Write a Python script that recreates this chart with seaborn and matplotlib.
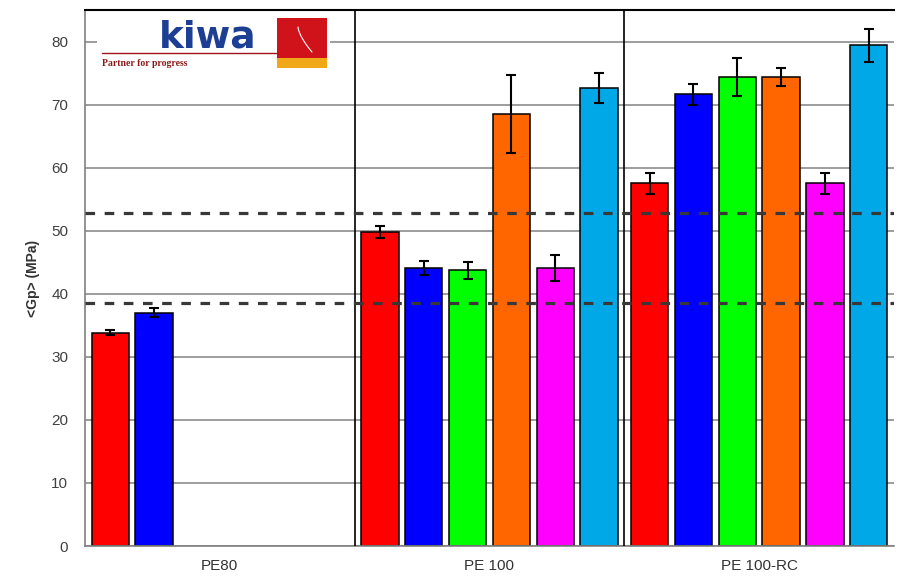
import matplotlib
matplotlib.use("Agg")
import matplotlib.pyplot as plt
import seaborn as sns
import pandas as pd
import numpy as np
from matplotlib.patches import Rectangle

# ---------------- data ----------------
groups = ["PE80", "PE 100", "PE 100-RC"]
series = ["Material 1", "Material 2", "Material 3", "Material 4", "Material 5", "Material 6"]
colors = ["#FF0000", "#0000FF", "#00FF00", "#FF6600", "#FF00FF", "#00A8E8"]

pe80_values = [33.8, 37.0]
pe80_errors = [0.4, 0.7]
pe100_values = [49.8, 44.1, 43.7, 68.5, 44.1, 72.6]
pe100_errors = [0.9, 1.1, 1.4, 6.2, 2.1, 2.4]
pe100rc_values = [57.5, 71.6, 74.4, 74.4, 57.5, 79.4]
pe100rc_errors = [1.6, 1.6, 3.0, 1.4, 1.7, 2.6]

ref_lines = [52.8, 38.6]
y_ticks = [0, 10, 20, 30, 40, 50, 60, 70, 80]

rows = []
for g, vals, errs in [("PE80", pe80_values, pe80_errors),
                      ("PE 100", pe100_values, pe100_errors),
                      ("PE 100-RC", pe100rc_values, pe100rc_errors)]:
    for s, v, e in zip(series, vals, errs):
        rows.append({"group": g, "series": s, "value": v, "err": e})
df = pd.DataFrame(rows)

# ---------------- figure ----------------
sns.set_style("white")
plt.rcParams["font.family"] = ["Liberation Sans", "DejaVu Sans"]

fig = plt.figure(figsize=(8.99, 5.77), dpi=100)
ax = fig.add_axes([85 / 899, 1 - 546 / 577, 809 / 899, 536 / 577])

sns.barplot(data=df, x="group", y="value", hue="series", order=groups,
            hue_order=series, palette=colors, width=0.975, gap=0.15,
            edgecolor="black", linewidth=1.1, errorbar=None, legend=False,
            saturation=1, ax=ax, zorder=2)

# error bars
for cont, s in zip(ax.containers, series):
    present = [g for g in groups if g in set(df[df["series"] == s]["group"])]
    sub = df[df["series"] == s].set_index("group").reindex(present)
    bars = sorted(cont.patches, key=lambda b: b.get_x())
    for bar, (_, r) in zip(bars, sub.iterrows()):
        ax.errorbar(bar.get_x() + bar.get_width() / 2, bar.get_height(),
                    yerr=r["err"], fmt="none", ecolor="black", capsize=3.5,
                    elinewidth=1.5, capthick=1.5, zorder=5)

# reference dashed lines
for yv in ref_lines:
    ax.axhline(yv, color="#383838", lw=2.3, dashes=(3, 3), zorder=4)

# group separators
for xv in [0.5, 1.5]:
    ax.axvline(xv, color="black", lw=1.2, zorder=3)

ax.set_xlim(-0.5, 2.5)
ax.set_ylim(0, 85)
ax.set_yticks(y_ticks)
ax.set_yticklabels([str(t) for t in y_ticks])
ax.yaxis.grid(True, color="#8c8c8c", lw=1.2)
ax.set_axisbelow(True)

ax.set_xlabel("")
ax.set_ylabel("<Gp> (MPa)", fontsize=10, fontweight="bold", color="#333333", labelpad=8)
ax.set_xticks([0, 1, 2])
ax.set_xticklabels(groups)
ax.set_xticks([-0.5, 0.5, 1.5, 2.5], minor=True)
ax.tick_params(axis="x", which="major", length=0, pad=9, labelsize=11, labelcolor="#333333")
ax.tick_params(axis="x", which="minor", length=7, width=1, color="#555555", direction="out")
ax.tick_params(axis="y", length=6, width=1, color="#808080", direction="out",
               labelsize=11, labelcolor="#404040", pad=6)

for side in ["left", "bottom"]:
    ax.spines[side].set_color("#808080")
    ax.spines[side].set_linewidth(1.2)
ax.spines["top"].set_color("black")
ax.spines["top"].set_linewidth(1.5)
ax.spines["right"].set_visible(False)

# ---------------- logo (decoration) ----------------
lx0, lx1, ly0, ly1 = 97, 330, 12, 72
lax = fig.add_axes([lx0 / 899, 1 - ly1 / 577, (lx1 - lx0) / 899, (ly1 - ly0) / 577])
lax.set_xlim(lx0, lx1)
lax.set_ylim(ly1, ly0)
lax.set_facecolor("white")
lax.axis("off")
lax.add_patch(Rectangle((lx0, ly0), lx1 - lx0, ly1 - ly0, facecolor="white", edgecolor="none"))
lax.text(208, 47, "kiwa", fontsize=27, fontweight="heavy", color="#1c3f94",
         family="DejaVu Sans", va="baseline", ha="center")
lax.plot([102, 277], [53, 53], color="#a01020", lw=1.0)
lax.text(102, 66, "Partner for progress", fontsize=7, fontweight="bold",
         color="#8b1a1a", family="Liberation Serif", va="baseline", ha="left")
lax.add_patch(Rectangle((277, 18), 50, 40, facecolor="#d0121b", edgecolor="none"))
lax.add_patch(Rectangle((277, 58), 50, 10, facecolor="#f0a818", edgecolor="none"))
tt = np.linspace(0, 1, 20)
lax.plot(298 + 14 * tt ** 1.5, 27 + 25 * tt, color="white", lw=0.8)

fig.savefig("out.png", dpi=100)
